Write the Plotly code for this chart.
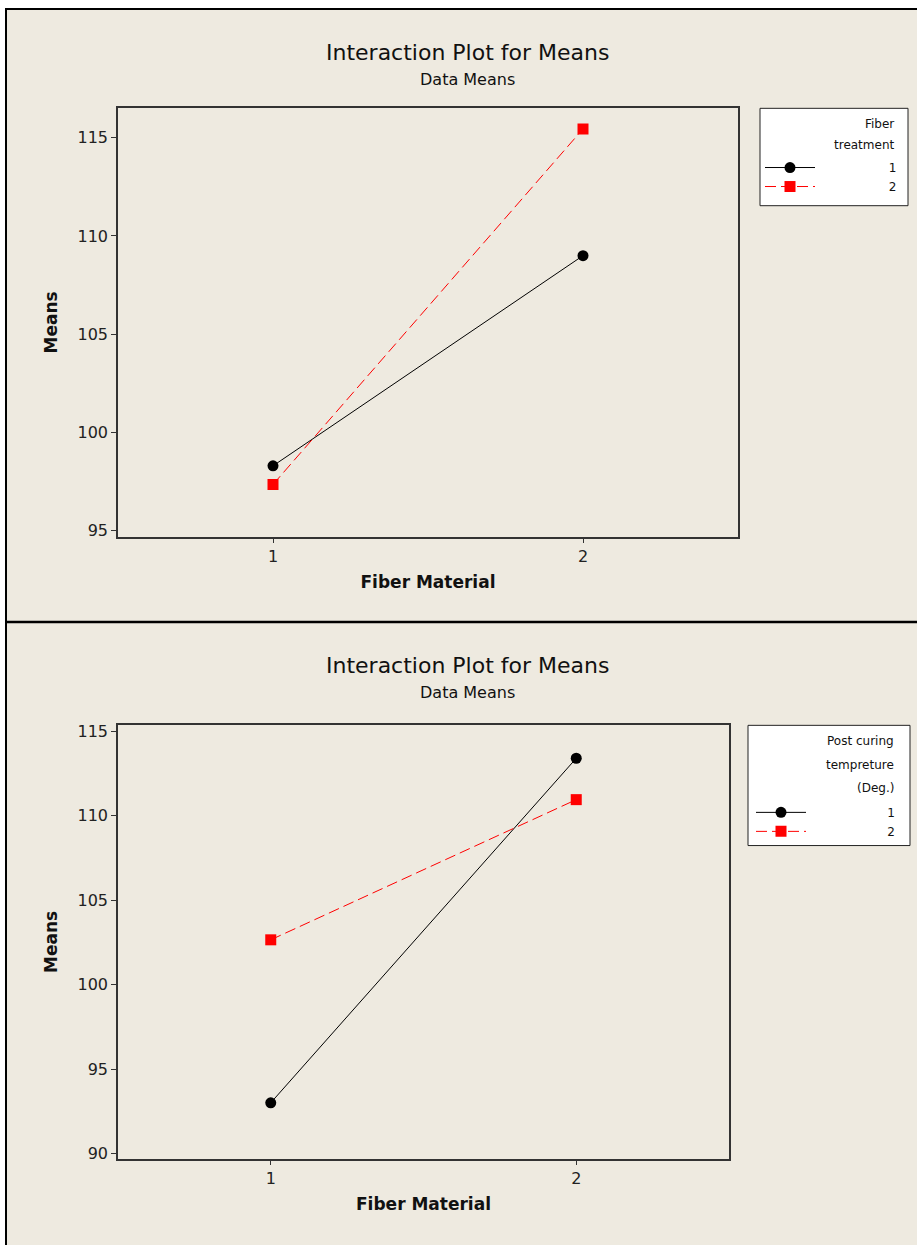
import plotly.graph_objects as go

W, H = 917, 1245

# ---- data ----
fiber_material = [1, 2]
top_series_names = ["1", "2"]
top_t1_means = [98.3, 109.0]
top_t2_means = [97.35, 115.45]
bot_series_names = ["1", "2"]
bot_c1_means = [93.0, 113.4]
bot_c2_means = [102.65, 110.95]
top_legend_title = ["Fiber", "treatment"]
bot_legend_title = ["Post curing", "tempreture", "(Deg.)"]
top_yticks = [95, 100, 105, 110, 115]
bot_yticks = [90, 95, 100, 105, 110, 115]

BG = "#EEEAE0"
FONT = "DejaVu Sans"


def px(x):
    return x / W


def py(y):
    return 1 - y / H


def pad(label, n):
    # right-align the legend label (figure spaces)
    return "\u2007" * n + label


fig = go.Figure()

black = dict(color="black", width=1)
red = dict(color="#FF0000", width=1, dash="11px,5px")

fig.add_trace(go.Scatter(x=fiber_material, y=top_t1_means, name=pad(top_series_names[0], 9),
                         mode="lines+markers", line=black,
                         marker=dict(symbol="circle", size=11, color="black"),
                         xaxis="x", yaxis="y", legend="legend"))
fig.add_trace(go.Scatter(x=fiber_material, y=top_t2_means, name=pad(top_series_names[1], 9),
                         mode="lines+markers", line=red,
                         marker=dict(symbol="square", size=11, color="#FF0000"),
                         xaxis="x", yaxis="y", legend="legend"))
fig.add_trace(go.Scatter(x=fiber_material, y=bot_c1_means, name=pad(bot_series_names[0], 10),
                         mode="lines+markers", line=black,
                         marker=dict(symbol="circle", size=11, color="black"),
                         xaxis="x2", yaxis="y2", legend="legend2"))
fig.add_trace(go.Scatter(x=fiber_material, y=bot_c2_means, name=pad(bot_series_names[1], 10),
                         mode="lines+markers", line=red,
                         marker=dict(symbol="square", size=11, color="#FF0000"),
                         xaxis="x2", yaxis="y2", legend="legend2"))

axis_common = dict(showline=True, linecolor="#333333", linewidth=1.5, mirror=True,
                   ticks="outside", ticklen=5, tickcolor="#333333", showgrid=False,
                   zeroline=False, tickfont=dict(family=FONT, size=16, color="#222222"),
                   fixedrange=True)

fig.update_layout(
    width=W, height=H,
    margin=dict(l=0, r=0, t=0, b=0),
    paper_bgcolor="white",
    plot_bgcolor="white",
    font=dict(family=FONT, color="#111111"),
    xaxis=dict(domain=[px(118), px(738)], anchor="y", range=[0.5, 2.5],
               tickvals=fiber_material, ticktext=[str(v) for v in fiber_material],
               title=dict(text="<b>Fiber Material</b>", font=dict(family=FONT, size=17), standoff=11),
               **axis_common),
    yaxis=dict(domain=[py(537), py(106)], anchor="x", range=[94.7, 116.5],
               tickvals=top_yticks,
               title=dict(text="<b>Means</b>", font=dict(family=FONT, size=17), standoff=16),
               **axis_common),
    xaxis2=dict(domain=[px(118), px(729)], anchor="y2", range=[0.5, 2.5],
                tickvals=fiber_material, ticktext=[str(v) for v in fiber_material],
                title=dict(text="<b>Fiber Material</b>", font=dict(family=FONT, size=17), standoff=11),
                **axis_common),
    yaxis2=dict(domain=[py(1163), py(727)], anchor="x2", range=[89.7, 115.35],
                tickvals=bot_yticks,
                title=dict(text="<b>Means</b>", font=dict(family=FONT, size=17), standoff=16),
                **axis_common),
    legend=dict(x=px(760), y=py(151), xanchor="left", yanchor="top",
                bgcolor="rgba(0,0,0,0)", borderwidth=0,
                font=dict(family=FONT, size=12, color="#111111"),
                itemwidth=50, tracegroupgap=0, traceorder="normal"),
    legend2=dict(x=px(751), y=py(800), xanchor="left", yanchor="top",
                 bgcolor="rgba(0,0,0,0)", borderwidth=0,
                 font=dict(family=FONT, size=12, color="#111111"),
                 itemwidth=50, tracegroupgap=0, traceorder="normal"),
    showlegend=True,
)

shapes = [
    # beige panel background with frame (right/bottom edges run off the page)
    dict(type="rect", xref="paper", yref="paper", x0=px(6), x1=px(W + 30), y0=py(H + 30), y1=py(6),
         fillcolor=BG, line=dict(color="black", width=2), layer="below"),
    dict(type="line", xref="paper", yref="paper", x0=px(6), x1=1, y0=py(623), y1=py(623),
         line=dict(color="black", width=2.5)),
    # legend boxes
    dict(type="rect", xref="paper", yref="paper", x0=px(760), x1=px(908), y0=py(204), y1=py(106),
         fillcolor="white", line=dict(color="#222222", width=1), layer="below"),
    dict(type="rect", xref="paper", yref="paper", x0=px(748), x1=px(910), y0=py(848), y1=py(727),
         fillcolor="white", line=dict(color="#222222", width=1), layer="below"),
]

annotations = []
for ty, sy in [(50, 77), (667, 694)]:
    annotations.append(dict(text="Interaction Plot for Means", xref="paper", yref="paper",
                            x=px(467), y=py(ty), xanchor="center", yanchor="middle", showarrow=False,
                            font=dict(family=FONT, size=22, color="#111111")))
    annotations.append(dict(text="Data Means", xref="paper", yref="paper",
                            x=px(467), y=py(sy), xanchor="center", yanchor="middle", showarrow=False,
                            font=dict(family=FONT, size=16, color="#111111")))

for i, line in enumerate(top_legend_title):
    annotations.append(dict(text=line, xref="paper", yref="paper", x=px(896), y=py(122 + 21 * i),
                            xanchor="right", yanchor="middle", showarrow=False,
                            font=dict(family=FONT, size=12, color="#111111")))
for i, line in enumerate(bot_legend_title):
    annotations.append(dict(text=line, xref="paper", yref="paper", x=px(896), y=py(743 + 23.5 * i),
                            xanchor="right", yanchor="middle", showarrow=False,
                            font=dict(family=FONT, size=12, color="#111111")))

fig.update_layout(shapes=shapes, annotations=annotations)

fig.write_html("out.html", config={"displayModeBar": False},
               post_script="document.body.style.margin='0';document.body.style.overflow='hidden';")
